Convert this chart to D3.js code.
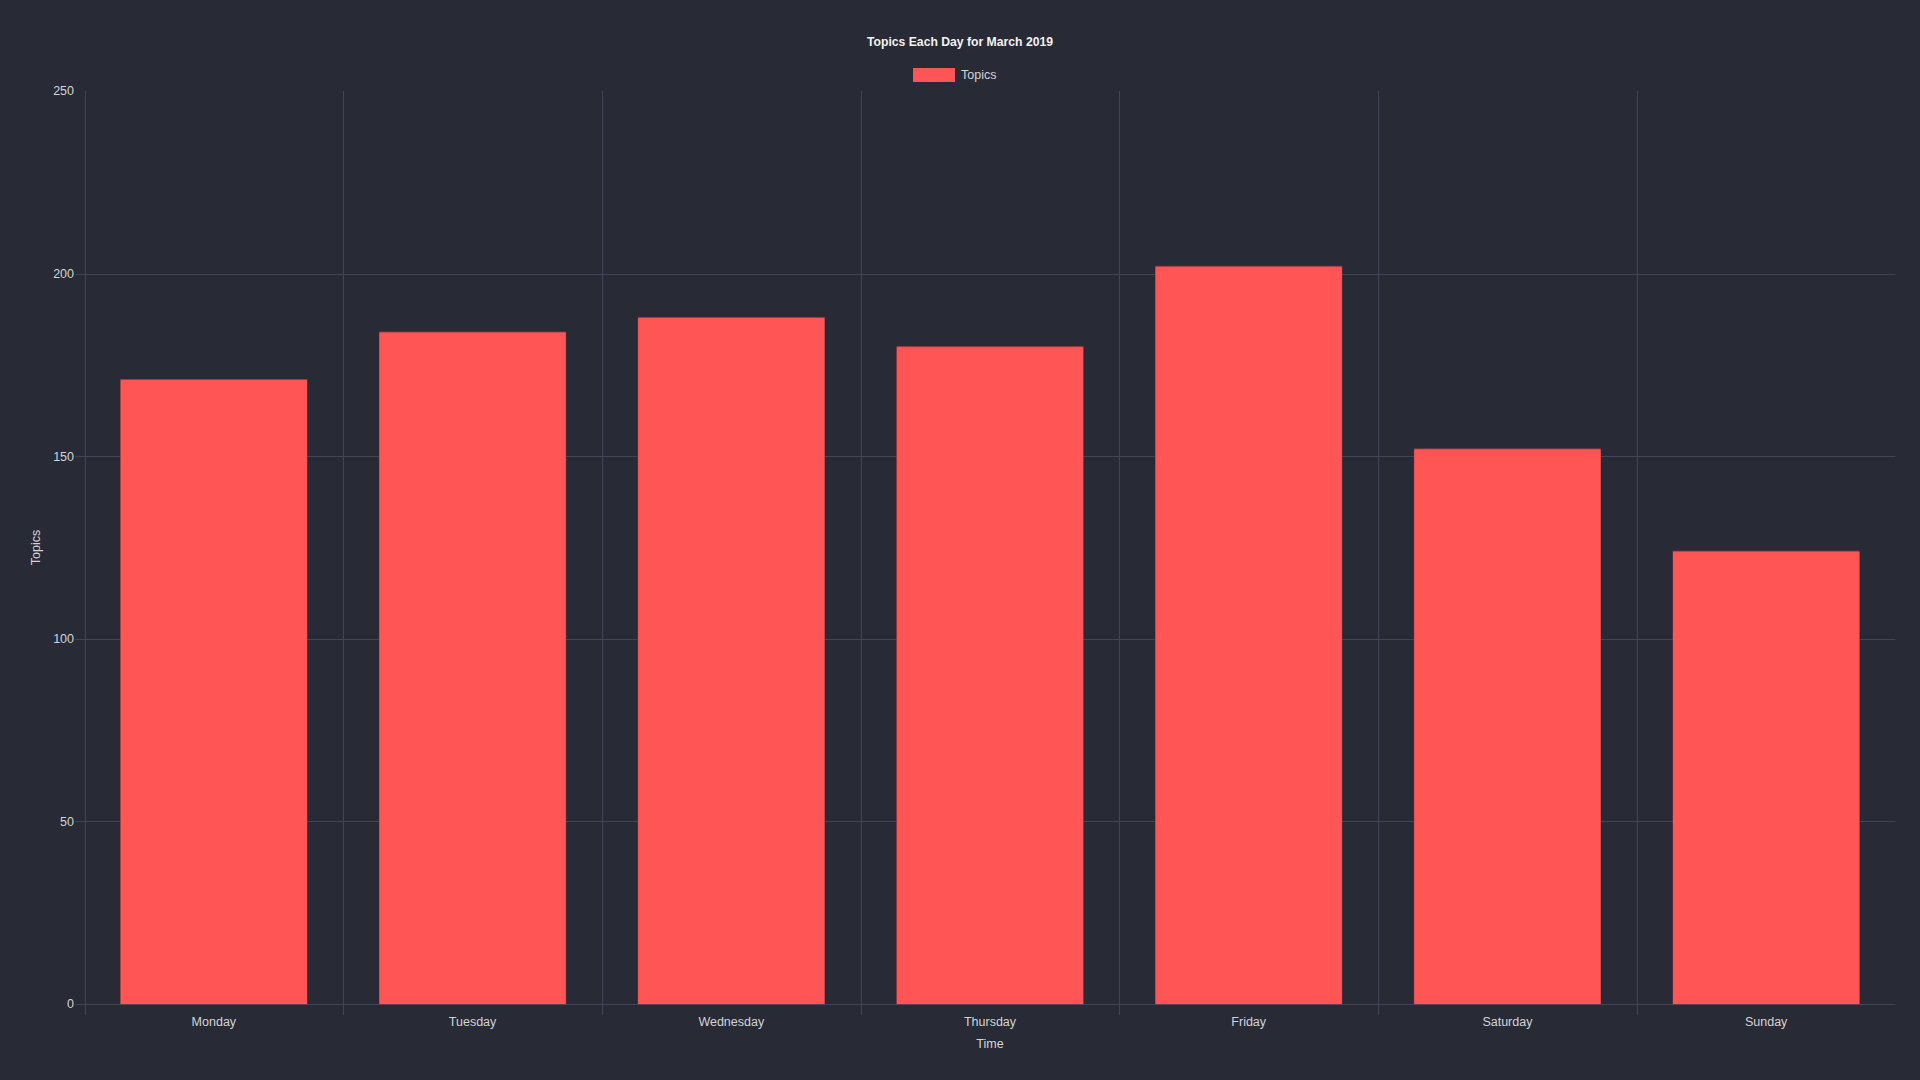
<!DOCTYPE html>
<html><head><meta charset="utf-8">
<script src="https://cdn.jsdelivr.net/npm/d3@7"></script>
<style>html,body{margin:0;padding:0;background:#282a36;}svg{display:block;}</style>
</head><body>
<svg id="c" width="1920" height="1080"></svg>
<script>
const categories = ["Monday","Tuesday","Wednesday","Thursday","Friday","Saturday","Sunday"];
const topics = [171,184,188,180,202,152,124];
const yTicks = [0,50,100,150,200,250];

const W=1920,H=1080;
const m={l:84.5,r:1895.5,t:91,b:1004};
const font="'Liberation Sans', Arial, sans-serif";
const svg=d3.select("#c");
svg.append("rect").attr("width",W).attr("height",H).attr("fill","#282a36");

const x=d3.scaleBand().domain(categories).range([m.l,m.r]).paddingInner(0).paddingOuter(0);
const y=d3.scaleLinear().domain([0,250]).range([m.b,m.t]);
const grid="#414456";

// horizontal grid (no line at the top tick)
const g=svg.append("g");
g.selectAll("line.h").data(yTicks.filter(d=>d<250)).join("line")
 .attr("x1",m.l-9).attr("x2",m.r).attr("y1",d=>Math.round(y(d))+0.5).attr("y2",d=>Math.round(y(d))+0.5)
 .attr("stroke",grid).attr("stroke-width",1);
// vertical grid at category boundaries
const bounds=categories.map(c=>x(c));
g.selectAll("line.v").data(bounds).join("line")
 .attr("x1",d=>Math.round(d)+0.5).attr("x2",d=>Math.round(d)+0.5).attr("y1",m.t).attr("y2",m.b+11)
 .attr("stroke",grid).attr("stroke-width",1);

// bars
const bw=x.bandwidth()*0.72;
svg.append("g").selectAll("rect").data(topics).join("rect")
 .attr("x",(d,i)=>x(categories[i])+(x.bandwidth()-bw)/2)
 .attr("width",bw)
 .attr("y",d=>y(d))
 .attr("height",d=>y(0)-y(d))
 .attr("fill","#ff5555")
 .attr("stroke","rgba(150,60,75,0.8)").attr("stroke-width",1);
svg.append("g").selectAll("rect").data(topics).join("rect")
 .attr("x",(d,i)=>x(categories[i])+(x.bandwidth()-bw)/2)
 .attr("width",bw)
 .attr("y",d=>y(d)+1)
 .attr("height",d=>y(0)-y(d)-1)
 .attr("fill","#ff5555");

// y tick labels
svg.append("g").selectAll("text").data(yTicks).join("text")
 .attr("x",74).attr("y",d=>y(d)).attr("dy","0.35em").attr("text-anchor","end")
 .attr("fill","#d4d4d4").attr("font-family",font).attr("font-size",12.5).text(d=>d);
// x tick labels
svg.append("g").selectAll("text").data(categories).join("text")
 .attr("x",d=>x(d)+x.bandwidth()/2).attr("y",1021.5).attr("dy","0.35em").attr("text-anchor","middle")
 .attr("fill","#d4d4d4").attr("font-family",font).attr("font-size",12.5).text(d=>d);

// axis titles
svg.append("text").attr("x",(m.l+m.r)/2).attr("y",1043.5).attr("dy","0.35em").attr("text-anchor","middle")
 .attr("fill","#d4d4d4").attr("font-family",font).attr("font-size",12.5).text("Time");
svg.append("text").attr("transform",`translate(36,${(m.t+m.b)/2}) rotate(-90)`).attr("dy","0.35em").attr("text-anchor","middle")
 .attr("fill","#d4d4d4").attr("font-family",font).attr("font-size",12.5).text("Topics");

// title
svg.append("text").attr("x",960).attr("y",42).attr("dy","0.35em").attr("text-anchor","middle")
 .attr("fill","#f2f2f2").attr("font-family",font).attr("font-size",12.2).attr("font-weight","bold")
 .text("Topics Each Day for March 2019");

// legend
svg.append("rect").attr("x",913).attr("y",68).attr("width",42).attr("height",14).attr("fill","#ff5555");
svg.append("text").attr("x",961).attr("y",75).attr("dy","0.35em").attr("fill","#d4d4d4")
 .attr("font-family",font).attr("font-size",12.5).text("Topics");
</script>
</body></html>
